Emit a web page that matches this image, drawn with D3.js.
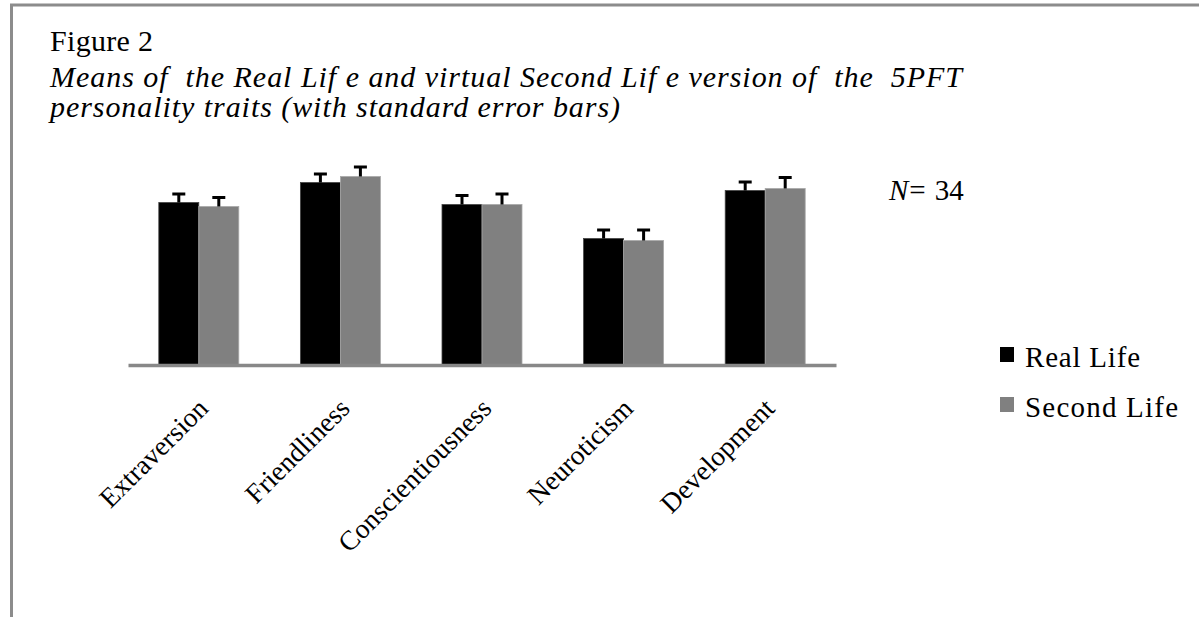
<!DOCTYPE html>
<html>
<head>
<meta charset="utf-8">
<script src="https://cdn.jsdelivr.net/npm/d3@7"></script>
<style>
  html, body { margin: 0; padding: 0; background: #fff; }
  svg { display: block; }
  text { font-family: "Liberation Serif", "Times New Roman", serif; fill: #000; white-space: pre; }
</style>
</head>
<body>
<svg id="chart" width="1199" height="617"></svg>
<script>
// ---- data ----
const categories = ["Extraversion", "Friendliness", "Conscientiousness", "Neuroticism", "Development"];
const seriesNames = ["Real Life", "Second Life"];
const realLife = [3.25, 3.65, 3.21, 2.53, 3.49];
const secondLife = [3.17, 3.77, 3.21, 2.49, 3.53];
const realLifeSE = [0.19, 0.19, 0.20, 0.19, 0.19];
const secondLifeSE = [0.20, 0.21, 0.23, 0.23, 0.24];
const seriesColors = ["#000000", "#808080"];
const titleLines = ["Figure 2",
  "Means of  the Real Lif e and virtual Second Lif e version of  the  5PFT",
  "personality traits (with standard error bars)"];
const noteText = ["N", "=", "34"];

// ---- drawing ----
const svg = d3.select("#chart");

// frame
svg.append("line").attr("x1", 10).attr("x2", 1199).attr("y1", 5).attr("y2", 5)
  .attr("stroke", "#8c8c8c").attr("stroke-width", 3);
svg.append("line").attr("x1", 11.5).attr("x2", 11.5).attr("y1", 4).attr("y2", 617)
  .attr("stroke", "#8c8c8c").attr("stroke-width", 3);

// title
svg.append("text").attr("x", 50).attr("y", 51).attr("font-size", 30)
  .attr("textLength", 103).attr("lengthAdjust", "spacing").text(titleLines[0]);
svg.append("text").attr("x", 50).attr("y", 87).attr("font-size", 30).attr("font-style", "italic")
  .attr("textLength", 912).attr("lengthAdjust", "spacing").text(titleLines[1]);
svg.append("text").attr("x", 50).attr("y", 117).attr("font-size", 30).attr("font-style", "italic")
  .attr("textLength", 570).attr("lengthAdjust", "spacing").text(titleLines[2]);

const x = d3.scaleBand().domain(categories).range([128, 836]).paddingInner(0).paddingOuter(0);
const xs = d3.scaleBand().domain(seriesNames).range([0, x.bandwidth()]).paddingInner(0).paddingOuter(0.77);
const y = d3.scaleLinear().domain([0, 4]).range([365, 165]);

const rows = [];
categories.forEach((c, i) => {
  rows.push({cat: c, s: seriesNames[0], v: realLife[i], se: realLifeSE[i], color: seriesColors[0]});
  rows.push({cat: c, s: seriesNames[1], v: secondLife[i], se: secondLifeSE[i], color: seriesColors[1]});
});

const g = svg.append("g");
g.selectAll("rect.bar").data(rows).join("rect").attr("class", "bar")
  .attr("x", d => x(d.cat) + xs(d.s))
  .attr("width", xs.bandwidth())
  .attr("y", d => y(d.v))
  .attr("height", d => y(0) - y(d.v))
  .attr("fill", d => d.color)
  .attr("stroke", d => d.s === seriesNames[0] ? "#444" : "#a8a8a8")
  .attr("stroke-width", 0.8);

// error bars (upper only)
const eb = g.selectAll("g.eb").data(rows).join("g").attr("class", "eb");
eb.append("line")
  .attr("x1", d => x(d.cat) + xs(d.s) + xs.bandwidth() / 2)
  .attr("x2", d => x(d.cat) + xs(d.s) + xs.bandwidth() / 2)
  .attr("y1", d => y(d.v))
  .attr("y2", d => y(d.v + d.se))
  .attr("stroke", "#000").attr("stroke-width", 3);
eb.append("line")
  .attr("x1", d => x(d.cat) + xs(d.s) + xs.bandwidth() / 2 - 6.5)
  .attr("x2", d => x(d.cat) + xs(d.s) + xs.bandwidth() / 2 + 6.5)
  .attr("y1", d => y(d.v + d.se) + 1)
  .attr("y2", d => y(d.v + d.se) + 1)
  .attr("stroke", "#000").attr("stroke-width", 3);

// category axis
const axis = d3.axisBottom(x).tickSize(0).tickPadding(0);
const ax = svg.append("g").attr("transform", `translate(0,${y(0)})`).call(axis);
ax.select(".domain").attr("stroke", "#888").attr("stroke-width", 3.5);
ax.selectAll(".tick text")
  .attr("font-family", "Liberation Serif, serif")
  .attr("font-size", 27.5)
  .attr("fill", "#000")
  .attr("text-anchor", "end")
  .attr("dy", 0)
  .attr("y", 0)
  .attr("transform", "translate(11,45) rotate(-45)");

// N = 34
const note = svg.append("text").attr("x", 889).attr("y", 200).attr("font-size", 29);
note.append("tspan").attr("font-style", "italic").text(noteText[0]);
note.append("tspan").attr("dx", 1).text(noteText[1]);
note.append("tspan").attr("dx", 9).text(noteText[2]);

// legend
const leg = svg.append("g").attr("transform", "translate(1000,347)");
seriesNames.forEach((s, i) => {
  const row = leg.append("g").attr("transform", `translate(0,${i * 50})`);
  row.append("rect").attr("width", 14).attr("height", 15).attr("fill", seriesColors[i]);
  row.append("text").attr("x", 25).attr("y", 20).attr("font-size", 29)
    .attr("textLength", i === 0 ? 115 : 153).attr("lengthAdjust", "spacing").text(s);
});
</script>
</body>
</html>
